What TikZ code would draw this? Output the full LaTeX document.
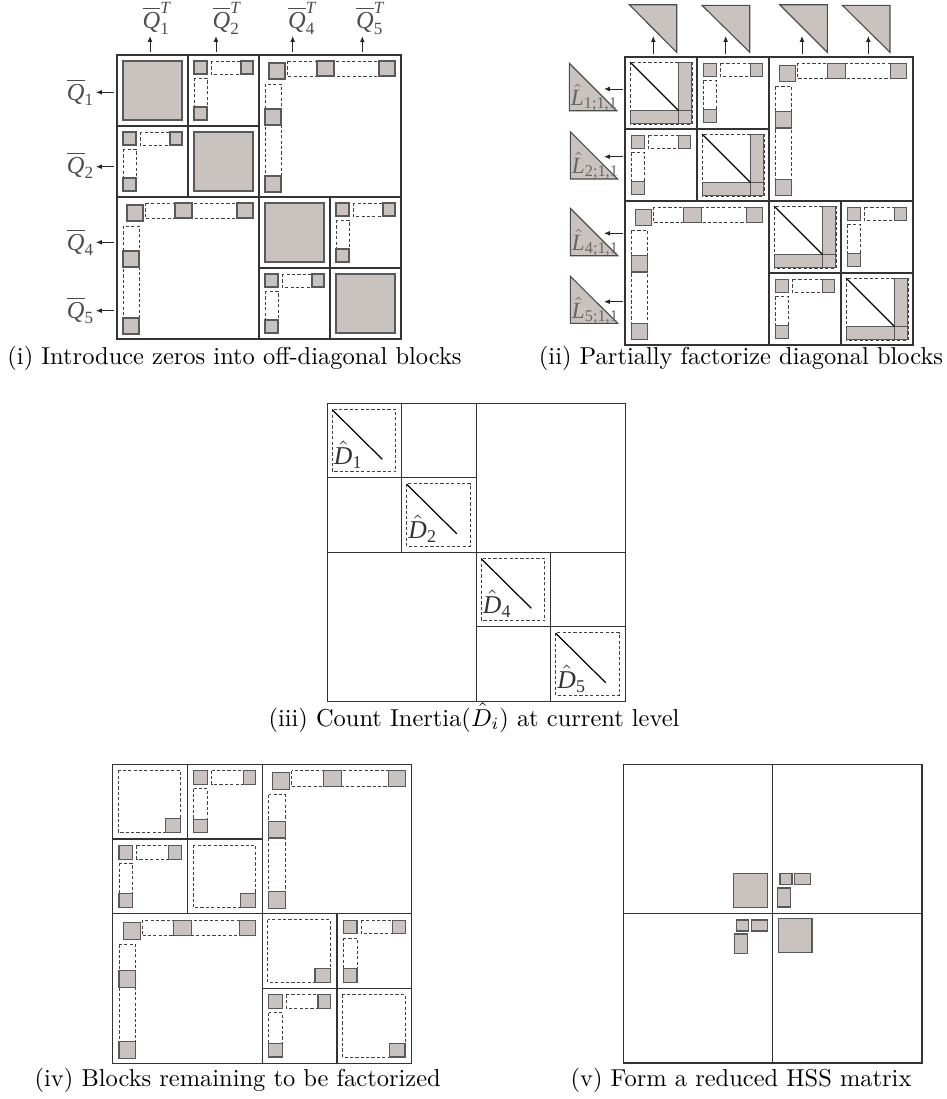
\documentclass[tikz,border=0pt]{standalone}
\usepackage{amsmath}
\usepackage{fontspec}
\usetikzlibrary{arrows.meta}
\newfontfamily\labfont{Liberation Serif}
\definecolor{hssgray}{RGB}{201,194,191}
\tikzset{
  blockline/.style={draw=black!80, line width=0.55pt},
  graybox/.style={fill=hssgray, draw=black!65, line width=0.45pt},
  dashbox/.style={draw=black!75, line width=0.35pt, dash pattern=on 1.3pt off 0.9pt},
  diagline/.style={draw=black, line width=0.5pt},
  tri/.style={fill=hssgray, draw=black!70, line width=0.45pt, line join=miter},
  arr/.style={draw=black!85, line width=0.4pt, -{Latex[length=2.4pt,width=2pt]}},
  qlabel/.style={text=black!70, inner sep=0.5pt, font=\fontsize{10}{11}\selectfont},
  llabel/.style={text=black!60, inner sep=0pt, font=\fontsize{9.5}{10}\selectfont},
  dlabel/.style={text=black!80, inner sep=0pt, font=\fontsize{10.5}{11}\selectfont},
  caption/.style={anchor=base, inner sep=0pt, font=\fontsize{10}{12}\selectfont},
  pics/gensmall/.style={code={
    \draw[dashbox] (23,6) rectangle (65,19);
    \draw[dashbox] (6,23) rectangle (19,65);
    \draw[graybox] (6,6) rectangle (19,19);
    \draw[graybox] (53,6) rectangle (65,19);
    \draw[graybox] (6,52) rectangle (19,65);
  }},
  pics/genbig/.style={code={
    \draw[dashbox] (28,6) rectangle (136,21);
    \draw[dashbox] (6,29) rectangle (22,137);
    \draw[graybox] (10,8) rectangle (26,24);
    \draw[graybox] (58,6) rectangle (75,21);
    \draw[graybox] (120,6) rectangle (136,21);
    \draw[graybox] (6,54) rectangle (22,70);
    \draw[graybox] (6,121) rectangle (22,137);
  }},
  pics/diagfull/.style={code={
    \draw[graybox] (6,6) rectangle (65,65);
  }},
  pics/diagpart/.style={code={
    \draw[dashbox] (5,5) rectangle (66,66);
    \draw[graybox] (53,5) rectangle (66,66);
    \draw[graybox] (5,53) rectangle (66,66);
    \draw[graybox] (53,53) rectangle (66,66);
    \draw[diagline] (5,5) -- (53,53);
  }},
  pics/diagdone/.style={code={
    \draw[dashbox] (5,6) rectangle (68.5,68.5);
    \draw[diagline] (5,6.5) -- (55,56);
  }},
  pics/diagleft/.style={code={
    \draw[dashbox] (5.5,6) rectangle (68,68.4);
    \draw[graybox] (52.8,54.6) rectangle (68,68.4);
  }},
}
\newcommand{\qbar}[1]{$\overline{\text{\labfont\itshape Q}}_{\text{\labfont #1}}$}
\newcommand{\qbart}[1]{$\overline{\text{\labfont\itshape Q}}_{\text{\labfont #1}}^{\text{\labfont\itshape T}}$}
\newcommand{\lhat}[1]{$\hat{\text{\labfont\itshape L}}_{\text{\labfont #1;1,1}}$}
\newcommand{\dhat}[1]{$\hat{\text{\labfont\itshape D}}_{\text{\labfont #1}}$}

\begin{document}
\begin{tikzpicture}[x=0.409pt, y=-0.409pt]
\useasboundingbox (0,0) rectangle (947,1099);

% (i) introduce zeros
\pic at (117,55) {diagfull};
\pic at (188,55) {gensmall};
\pic at (117,126) {gensmall};
\pic at (188,126) {diagfull};
\pic at (259,55) {genbig};
\pic at (117,197) {genbig};
\pic at (259,197) {diagfull};
\pic at (330,197) {gensmall};
\pic at (259,268) {gensmall};
\pic at (330,268) {diagfull};
\draw[blockline] (117,55) rectangle (401,339);
\draw[blockline] (259,55) -- (259,339);
\draw[blockline] (117,197) -- (401,197);
\draw[blockline] (188,55) -- (188,197);
\draw[blockline] (117,126) -- (259,126);
\draw[blockline] (330,197) -- (330,339);
\draw[blockline] (259,268) -- (401,268);
\node[qlabel, anchor=base east] (q1) at (96,100) {\qbar{1}};
\node[qlabel, anchor=base east] (q2) at (96,173.3) {\qbar{2}};
\node[qlabel, anchor=base east] (q4) at (96,250) {\qbar{4}};
\node[qlabel, anchor=base east] (q5) at (96,318.3) {\qbar{5}};
\coordinate (q1m) at (114,92.3);
\coordinate (q2m) at (114,166.7);
\coordinate (q4m) at (114,242.3);
\coordinate (q5m) at (114,310.7);
\draw[arr] (q1m) -- (q1m -| q1.east);
\draw[arr] (q2m) -- (q2m -| q2.east);
\draw[arr] (q4m) -- (q4m -| q4.east);
\draw[arr] (q5m) -- (q5m -| q5.east);
\node[qlabel, anchor=base west] (t1) at (141,28.3) {\qbart{1}};
\node[qlabel, anchor=base west] (t2) at (211,28.3) {\qbart{2}};
\node[qlabel, anchor=base west] (t4) at (286.5,28.3) {\qbart{4}};
\node[qlabel, anchor=base west] (t5) at (354.5,28.3) {\qbart{5}};
\coordinate (t1m) at (150,51.7);
\coordinate (t2m) at (216,51.7);
\coordinate (t4m) at (292.7,51.7);
\coordinate (t5m) at (362.3,51.7);
\draw[arr] (t1m) -- (t1m |- t1.south);
\draw[arr] (t2m) -- (t2m |- t2.south);
\draw[arr] (t4m) -- (t4m |- t4.south);
\draw[arr] (t5m) -- (t5m |- t5.south);
\node[caption] (cap1) at (234.5,364.3) {(i) Introduce zeros into off-diagonal blocks};

% (ii) partial factorization
\pic[scale=1.014] at (625,57) {diagpart};
\pic[scale=1.014] at (697,129) {diagpart};
\pic[scale=1.014] at (769,201) {diagpart};
\pic[scale=1.014] at (841,273) {diagpart};
\pic[scale=1.014] at (697,57) {gensmall};
\pic[scale=1.014] at (625,129) {gensmall};
\pic[scale=1.014] at (841,201) {gensmall};
\pic[scale=1.014] at (769,273) {gensmall};
\pic[scale=1.014] at (769,57) {genbig};
\pic[scale=1.014] at (625,201) {genbig};
\draw[blockline] (625,57) rectangle (913,345);
\draw[blockline] (769,57) -- (769,345);
\draw[blockline] (625,201) -- (913,201);
\draw[blockline] (697,57) -- (697,201);
\draw[blockline] (625,129) -- (769,129);
\draw[blockline] (841,201) -- (841,345);
\draw[blockline] (769,273) -- (913,273);
\draw[tri] (629.3,4.7) -- (676.7,4.7) -- (676.7,52.3) -- cycle;
\draw[tri] (702,5.3) -- (749.7,5.3) -- (749.7,52.3) -- cycle;
\draw[tri] (779.7,4.7) -- (827.3,4.7) -- (827.3,52.3) -- cycle;
\draw[tri] (842.3,5.3) -- (890,5.3) -- (890,52.3) -- cycle;
\draw[tri] (569.3,63.3) -- (569.3,110.7) -- (616.7,110.7) -- cycle;
\draw[tri] (570.3,131.7) -- (570.3,179) -- (617.7,179) -- cycle;
\draw[tri] (570.3,208.3) -- (570.3,255.7) -- (617.7,255.7) -- cycle;
\draw[tri] (570.3,276.3) -- (570.3,323.3) -- (617.7,323.3) -- cycle;
\node[llabel, anchor=base west] (l1) at (570.5,105.5) {\lhat{1}};
\node[llabel, anchor=base west] (l2) at (571.5,173.5) {\lhat{2}};
\node[llabel, anchor=base west] (l4) at (571.5,250.5) {\lhat{4}};
\node[llabel, anchor=base west] (l5) at (571.5,318) {\lhat{5}};
\coordinate (ut1m) at (653.3,54);
\coordinate (ut2m) at (725.7,54);
\coordinate (ut4m) at (802,54);
\coordinate (ut5m) at (868.3,54);
\coordinate (ut1) at (653.3,36);
\coordinate (ut2) at (725.7,36);
\coordinate (ut4) at (802,36);
\coordinate (ut5) at (868.3,36);
\draw[arr] (ut1m) -- (ut1);
\draw[arr] (ut2m) -- (ut2);
\draw[arr] (ut4m) -- (ut4);
\draw[arr] (ut5m) -- (ut5);
\coordinate (lt1m) at (622.7,89);
\coordinate (lt2m) at (622.7,156.7);
\coordinate (lt4m) at (622.7,233.3);
\coordinate (lt5m) at (622.7,301.7);
\coordinate (lt1) at (604,89);
\coordinate (lt2) at (604,156.7);
\coordinate (lt4) at (604,233.3);
\coordinate (lt5) at (604,301.7);
\draw[arr] (lt1m) -- (lt1);
\draw[arr] (lt2m) -- (lt2);
\draw[arr] (lt4m) -- (lt4);
\draw[arr] (lt5m) -- (lt5);
\node[caption] (cap2) at (741,364.3) {(ii) Partially factorize diagonal blocks};

% (iii) inertia count
\pic at (327.3,403.3) {diagdone};
\pic at (401.8,477.8) {diagdone};
\pic at (476.3,552.3) {diagdone};
\pic at (550.8,626.8) {diagdone};
\draw[blockline] (327.3,403.3) rectangle (625.3,701.3);
\draw[blockline] (476.3,403.3) -- (476.3,701.3);
\draw[blockline] (327.3,552.3) -- (625.3,552.3);
\draw[blockline] (401.8,403.3) -- (401.8,552.3);
\draw[blockline] (327.3,477.8) -- (476.3,477.8);
\draw[blockline] (550.8,552.3) -- (550.8,701.3);
\draw[blockline] (476.3,626.8) -- (625.3,626.8);
\node[dlabel, anchor=base west] (d1) at (333.5,464.3) {\dhat{1}};
\node[dlabel, anchor=base west] (d2) at (408,538.8) {\dhat{2}};
\node[dlabel, anchor=base west] (d4) at (482.5,613.3) {\dhat{4}};
\node[dlabel, anchor=base west] (d5) at (557,688.5) {\dhat{5}};
\node[caption] (cap3) at (474,726) {(iii) Count Inertia($\hat{D}_i$) at current level};

% (iv) remaining blocks
\pic at (112.7,764.3) {diagleft};
\pic at (187.45,839.05) {diagleft};
\pic at (262.2,913.8) {diagleft};
\pic at (336.95,988.55) {diagleft};
\pic[scale=1.053] at (187.45,764.3) {gensmall};
\pic[scale=1.053] at (112.7,839.05) {gensmall};
\pic[scale=1.053] at (336.95,913.8) {gensmall};
\pic[scale=1.053] at (262.2,988.55) {gensmall};
\pic[scale=1.053] at (262.2,764.3) {genbig};
\pic[scale=1.053] at (112.7,913.8) {genbig};
\draw[blockline] (112.7,764.3) rectangle (411.7,1063.3);
\draw[blockline] (262.2,764.3) -- (262.2,1063.3);
\draw[blockline] (112.7,913.8) -- (411.7,913.8);
\draw[blockline] (187.45,764.3) -- (187.45,913.8);
\draw[blockline] (112.7,839.05) -- (262.2,839.05);
\draw[blockline] (336.95,913.8) -- (336.95,1063.3);
\draw[blockline] (262.2,988.55) -- (411.7,988.55);
\node[caption] (cap4) at (237.7,1086.7) {(iv) Blocks remaining to be factorized};

% (v) reduced HSS matrix
\draw[blockline] (623.3,764.3) rectangle (922,1063);
\draw[blockline] (772.65,764.3) -- (772.65,1063);
\draw[blockline] (623.3,913.65) -- (922,913.65);
\draw[graybox] (733.7,873.7) rectangle (767.7,907.3);
\draw[graybox] (780,873.7) rectangle (792,884.7);
\draw[graybox] (794.7,873.7) rectangle (810.7,884.7);
\draw[graybox] (777.3,888) rectangle (790.7,907);
\draw[graybox] (778.3,918.3) rectangle (812,952.3);
\draw[graybox] (736.7,920) rectangle (748.7,931);
\draw[graybox] (751.7,920) rectangle (767.7,931);
\draw[graybox] (734.3,934) rectangle (747.3,953.3);
\node[caption] (cap5) at (741,1086.7) {(v) Form a reduced HSS matrix};
\end{tikzpicture}
\end{document}
